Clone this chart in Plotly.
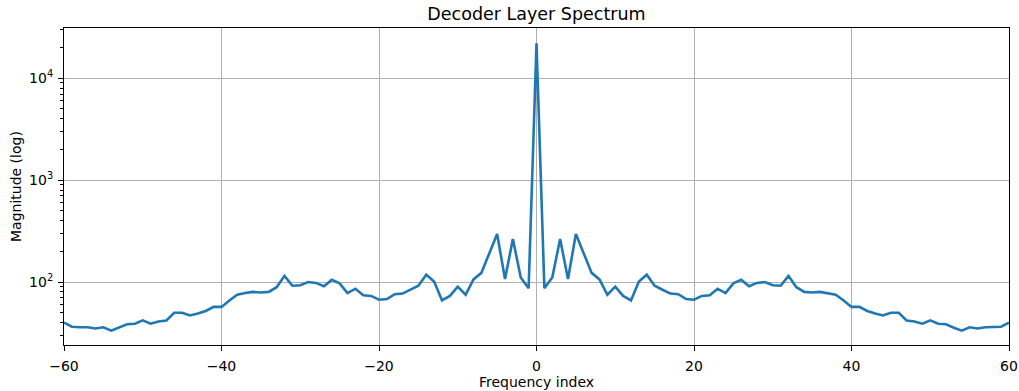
import plotly.graph_objects as go

freq_index = list(range(-60, 61))

magnitude = [
    40, 36.4, 36, 36, 35, 36, 33.3, 35.6, 38.5, 39,
    42, 39, 41, 42, 50, 50, 47, 49, 52, 57,
    57, 66, 75, 78, 80, 79, 80, 89, 115, 92,
    93, 100, 98, 91, 105, 97, 78, 86, 74, 73,
    67, 68, 76, 77, 84, 92, 118, 101, 66, 73,
    90, 75, 106, 123, 191, 296, 107, 264, 111, 87,
    22000,
    87, 111, 264, 107, 296, 191, 123, 106, 75, 90,
    73, 66, 101, 118, 92, 84, 77, 76, 68, 67,
    73, 74, 86, 78, 97, 105, 91, 98, 100, 93,
    92, 115, 89, 80, 79, 80, 78, 75, 66, 57,
    57, 52, 49, 47, 50, 50, 42, 41, 39, 42,
    39, 38.5, 35.6, 33.3, 36, 35, 36, 36, 36.4, 40,
]

x_ticks = [-60, -40, -20, 0, 20, 40, 60]
y_ticks = [100, 1000, 10000]
y_tick_text = ["10<sup>2</sup>", "10<sup>3</sup>", "10<sup>4</sup>"]

W, H = 1019, 391
L, R, T, B = 63.5, 10, 28, 46

fig = go.Figure()
fig.add_trace(go.Scatter(
    x=freq_index, y=magnitude, mode="lines",
    line=dict(color="#1f77b4", width=2.6),
    showlegend=False,
))

font = "DejaVu Sans, sans-serif"
ph = H - T - B
fig.update_layout(
    width=W, height=H,
    margin=dict(l=L, r=R, t=T, b=B, autoexpand=False),
    paper_bgcolor="white", plot_bgcolor="white",
    font=dict(family=font, size=14, color="black"),
    title=dict(text="Decoder Layer Spectrum", x=0.5, xanchor="center", xref="paper",
               y=1 - 13.5 / H, yanchor="middle", yref="container",
               font=dict(size=17.5, family=font, color="black")),
    annotations=[
        dict(text="Frequency index", xref="paper", yref="paper",
             x=0.5, y=-(382 - (H - B)) / ph, xanchor="center", yanchor="middle",
             showarrow=False, font=dict(size=14, family=font, color="black")),
        dict(text="Magnitude (log)", xref="paper", yref="paper",
             x=-(L - 15) / (W - L - R), y=0.5, xanchor="center", yanchor="middle",
             textangle=-90, showarrow=False,
             font=dict(size=14, family=font, color="black")),
    ],
)
fig.update_xaxes(
    range=[-60, 60], tickvals=x_ticks, automargin=False,
    showline=True, linecolor="black", linewidth=1.1, mirror=True,
    ticks="outside", ticklen=5, tickwidth=1.1, tickcolor="black",
    showgrid=True, gridcolor="#b0b0b0", gridwidth=1.1,
    zeroline=False, ticklabelstandoff=3,
    tickfont=dict(size=14),
)
fig.update_yaxes(
    type="log", range=[1.382, 4.493], automargin=False,
    tickvals=y_ticks, ticktext=y_tick_text,
    showline=True, linecolor="black", linewidth=1.1, mirror=True,
    ticks="outside", ticklen=5, tickwidth=1.1, tickcolor="black",
    showgrid=True, gridcolor="#b0b0b0", gridwidth=1.1,
    zeroline=False, ticklabelstandoff=2,
    minor=dict(ticks="outside", ticklen=3, tickwidth=0.8, tickcolor="black",
               showgrid=False, dtick="D1"),
    tickfont=dict(size=14),
)

fig.write_html("out.html")
